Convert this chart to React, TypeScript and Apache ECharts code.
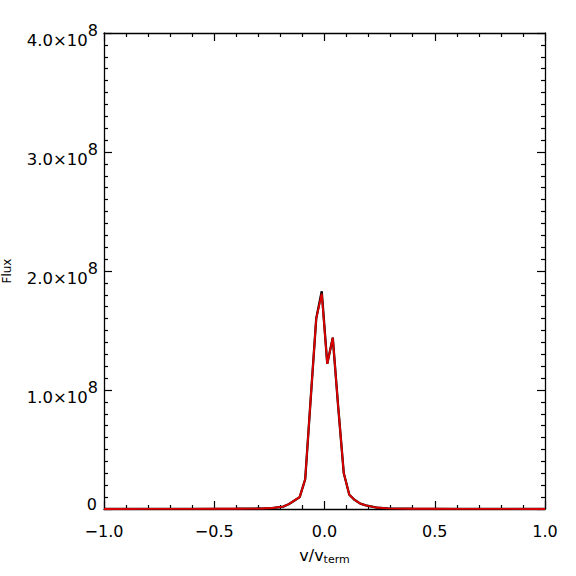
import React, { useEffect, useRef } from "react";
import * as echarts from "echarts";

const velocity = [
  -1.0, -0.8, -0.6, -0.5, -0.4, -0.3375, -0.2875, -0.2375, -0.1875, -0.1625,
  -0.1375, -0.1125, -0.0875, -0.0625, -0.0375, -0.0125, 0.0125, 0.0375, 0.0625,
  0.0875, 0.1125, 0.1375, 0.1625, 0.1875, 0.2375, 0.2875, 0.3375, 0.4, 0.5, 0.6,
  0.8, 1.0,
];
const fluxBlack = [
  0.0005e8, 0.0008e8, 0.0012e8, 0.0015e8, 0.002e8, 0.003e8, 0.004e8, 0.008e8,
  0.02e8, 0.04e8, 0.07e8, 0.1e8, 0.25e8, 0.93e8, 1.6e8, 1.83e8, 1.22e8, 1.44e8,
  0.85e8, 0.3e8, 0.12e8, 0.075e8, 0.045e8, 0.03e8, 0.012e8, 0.005e8, 0.003e8,
  0.002e8, 0.0015e8, 0.0012e8, 0.0008e8, 0.0005e8,
];
const fluxRed = [
  0.0005e8, 0.0008e8, 0.0012e8, 0.0015e8, 0.002e8, 0.003e8, 0.004e8, 0.008e8,
  0.02e8, 0.04e8, 0.07e8, 0.1e8, 0.25e8, 0.93e8, 1.6e8, 1.81e8, 1.22e8, 1.44e8,
  0.85e8, 0.3e8, 0.12e8, 0.075e8, 0.045e8, 0.03e8, 0.012e8, 0.005e8, 0.003e8,
  0.002e8, 0.0015e8, 0.0012e8, 0.0008e8, 0.0005e8,
];
const yTickLabels: Record<string, string> = {
  "0": "{z|0}",
  "100000000": "{a|1.0×10}{s|8}",
  "200000000": "{a|2.0×10}{s|8}",
  "300000000": "{a|3.0×10}{s|8}",
  "400000000": "{a|4.0×10}{s|8}",
};

const FONT = "DejaVu Sans";

export default function App() {
  const ref = useRef<HTMLDivElement>(null);
  useEffect(() => {
    const chart = echarts.init(ref.current!, null, { renderer: "svg" });
    const axisLine = { show: true, onZero: false, lineStyle: { color: "#000", width: 1.3 } };
    const tick = { show: true, inside: true, length: 8, lineStyle: { color: "#000", width: 1.2 } };
    const minor = { show: true, length: 4, lineStyle: { color: "#000", width: 1.2 } };
    chart.setOption({
      animation: false,
      backgroundColor: "#fff",
      grid: { left: 104, right: 31, top: 33, bottom: 67, outerBoundsMode: "none", containLabel: false },
      xAxis: [
        {
          type: "value",
          min: -1,
          max: 1,
          interval: 0.5,
          axisLine,
          axisTick: tick,
          minorTick: { ...minor, splitNumber: 5 },
          splitLine: { show: false },
          minorSplitLine: { show: false },
          axisLabel: {
            margin: 14,
            color: "#000",
            fontFamily: FONT,
            fontSize: 16,
            formatter: (v: number) => v.toFixed(1).replace("-", "−"),
          },
          name: "{a|v/v}{b|term}",
          nameLocation: "middle",
          nameGap: 38,
          nameTextStyle: {
            rich: {
              a: { fontFamily: FONT, fontSize: 16, color: "#000", verticalAlign: "top" },
              b: { fontFamily: FONT, fontSize: 11, color: "#000", padding: [7, 0, 0, 0], verticalAlign: "top" },
            },
          },
        },
        {
          type: "value",
          position: "top",
          min: -1,
          max: 1,
          interval: 0.5,
          axisLine,
          axisTick: tick,
          minorTick: { ...minor, splitNumber: 5 },
          splitLine: { show: false },
          axisLabel: { show: false },
        },
      ],
      yAxis: [
        {
          type: "value",
          min: 0,
          max: 4e8,
          interval: 1e8,
          axisLine,
          axisTick: tick,
          minorTick: { ...minor, splitNumber: 10 },
          splitLine: { show: false },
          minorSplitLine: { show: false },
          axisLabel: {
            margin: 6,
            formatter: (v: number) => yTickLabels[String(Math.round(v))] ?? "",
            rich: {
              z: { fontFamily: FONT, fontSize: 16, color: "#000", padding: [0, 1, 10, 0] },
              a: { fontFamily: FONT, fontSize: 16.5, color: "#000", verticalAlign: "bottom", padding: [14, 0, 0, 0] },
              s: { fontFamily: FONT, fontSize: 16, color: "#000", verticalAlign: "bottom", padding: [0, 0, 10, 0] },
            },
          },
          name: "Flux",
          nameLocation: "middle",
          nameGap: 91,
          nameTextStyle: { fontFamily: FONT, fontSize: 12, color: "#000" },
        },
        {
          type: "value",
          position: "right",
          min: 0,
          max: 4e8,
          interval: 1e8,
          axisLine,
          axisTick: tick,
          minorTick: { ...minor, splitNumber: 10 },
          splitLine: { show: false },
          axisLabel: { show: false },
        },
      ],
      series: [
        {
          type: "line",
          data: velocity.map((x, i) => [x, fluxBlack[i]]),
          showSymbol: false,
          lineStyle: { color: "#000", width: 2.3 },
          z: 3,
        },
        {
          type: "line",
          data: velocity.map((x, i) => [x, fluxRed[i]]),
          showSymbol: false,
          lineStyle: { color: "#dd0000", width: 1.9 },
          z: 4,
        },
      ],
    });
    return () => chart.dispose();
  }, []);
  return (
    <div
      ref={ref}
      style={{ position: "fixed", left: 0, top: 0, width: 576, height: 576 }}
    />
  );
}
